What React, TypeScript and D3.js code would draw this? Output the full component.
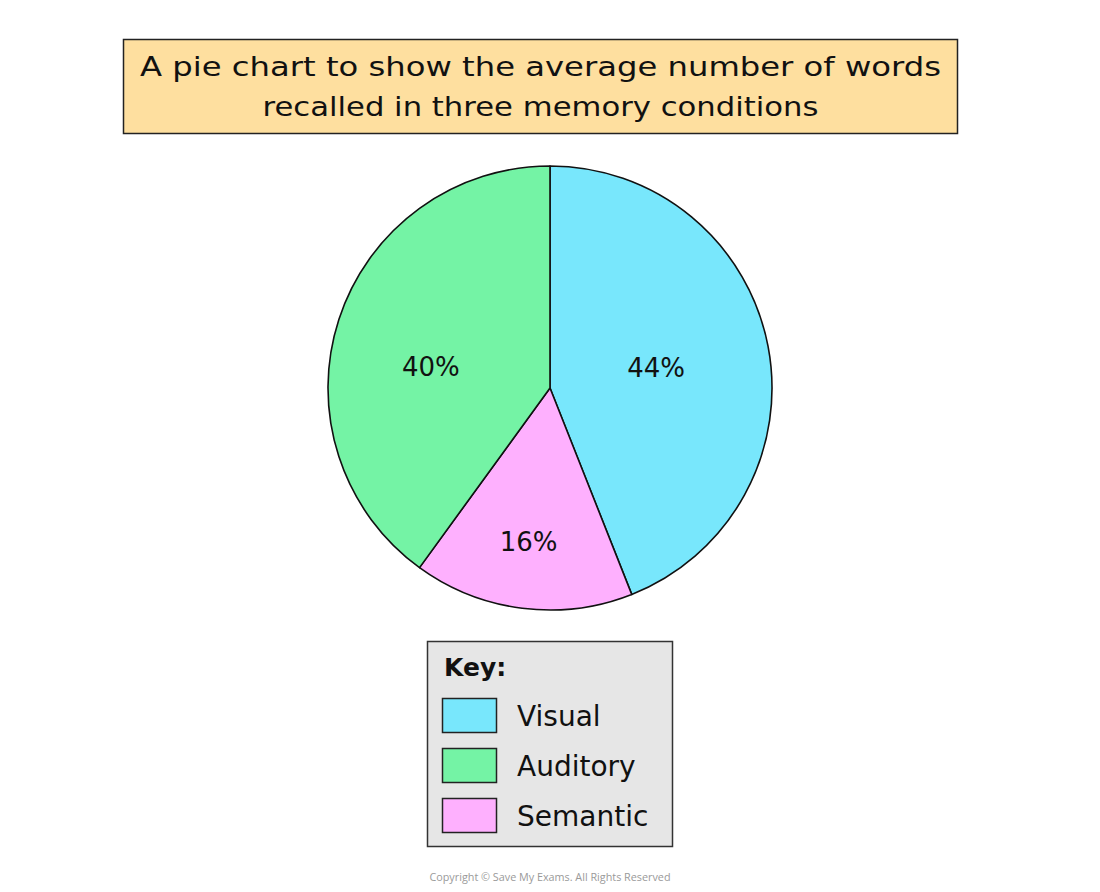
import React, { useEffect, useRef } from 'react';
import * as d3 from 'd3';

const conditions = ['Visual', 'Auditory', 'Semantic'];
const percents = [44, 40, 16];
// pie is drawn clockwise from 12 o'clock in this order
const sliceOrder = ['Visual', 'Semantic', 'Auditory'];
const colors = ['#78e7fc', '#74f3a5', '#feb0fe'];
const titleLines = [
  'A pie chart to show the average number of words',
  'recalled in three memory conditions',
];

const App: React.FC = () => {
  const svgRef = useRef<SVGSVGElement>(null);
  const width = 1100;
  const height = 892;

  useEffect(() => {
    const svg = d3.select(svgRef.current);
    svg.selectAll('*').remove();

    const font = "'DejaVu Sans', sans-serif";
    const color = d3.scaleOrdinal<string, string>().domain(conditions).range(colors);

    // title box
    svg.append('rect')
      .attr('x', 123.5).attr('y', 39.5)
      .attr('width', 834).attr('height', 94)
      .attr('fill', '#fedf9f')
      .attr('stroke', '#222').attr('stroke-width', 1.5);

    const titleWidths = [801, 556];
    titleLines.forEach((t, i) => {
      svg.append('text')
        .attr('x', 540.5)
        .attr('y', 76 + i * 40)
        .attr('text-anchor', 'middle')
        .attr('font-family', font)
        .attr('font-size', 27)
        .attr('fill', '#111')
        .attr('textLength', titleWidths[i])
        .attr('lengthAdjust', 'spacingAndGlyphs')
        .text(t);
    });

    // pie
    const cx = 550, cy = 388, r = 222;
    const data = sliceOrder.map(name => ({ name, value: percents[conditions.indexOf(name)] }));
    const pie = d3.pie<{ name: string; value: number }>()
      .value(d => d.value)
      .sort(null);
    const arcs = pie(data);
    const arc = d3.arc<d3.PieArcDatum<{ name: string; value: number }>>()
      .innerRadius(0)
      .outerRadius(r);

    const g = svg.append('g').attr('transform', `translate(${cx},${cy})`);
    g.selectAll('path')
      .data(arcs)
      .join('path')
      .attr('d', arc)
      .attr('fill', d => color(d.data.name))
      .attr('stroke', '#111')
      .attr('stroke-width', 1.6)
      .attr('stroke-linejoin', 'round');

    // label radius and nudge per slice
    const labelR: Record<string, number> = { Visual: 106, Auditory: 121, Semantic: 155 };
    const labelNudge: Record<string, [number, number]> = { Visual: [2, 0], Auditory: [-4, 16], Semantic: [-2, 0] };
    g.selectAll('text.pct')
      .data(arcs)
      .join('text')
      .attr('class', 'pct')
      .attr('transform', d => {
        const la = d3.arc<any>().innerRadius(labelR[d.data.name]).outerRadius(labelR[d.data.name]);
        const [x, y] = la.centroid(d as any);
        const [nx, ny] = labelNudge[d.data.name];
        return `translate(${x + nx},${y + ny})`;
      })
      .attr('text-anchor', 'middle')
      .attr('dominant-baseline', 'central')
      .attr('font-family', font)
      .attr('font-size', 26)
      .attr('fill', '#111')
      .text(d => `${d.data.value}%`);

    // key
    svg.append('rect')
      .attr('x', 427.5).attr('y', 641.5)
      .attr('width', 245).attr('height', 205)
      .attr('fill', '#e6e6e6')
      .attr('stroke', '#333').attr('stroke-width', 1.5);

    svg.append('text')
      .attr('x', 444).attr('y', 676)
      .attr('font-family', font)
      .attr('font-size', 25)
      .attr('font-weight', 'bold')
      .attr('fill', '#111')
      .text('Key:');

    const keyY = d3.scaleBand().domain(conditions).range([690, 840]).paddingInner(0);
    const keyRows = svg.selectAll('g.keyrow')
      .data(conditions)
      .join('g')
      .attr('class', 'keyrow')
      .attr('transform', d => `translate(0,${keyY(d)!})`);

    keyRows.append('rect')
      .attr('x', 442.5).attr('y', 8.5)
      .attr('width', 54).attr('height', 34)
      .attr('fill', d => color(d))
      .attr('stroke', '#222').attr('stroke-width', 1.5);

    keyRows.append('text')
      .attr('x', 517).attr('y', 36)
      .attr('font-family', font)
      .attr('font-size', 28)
      .attr('fill', '#111')
      .text(d => d);

    svg.append('text')
      .attr('x', 550).attr('y', 881)
      .attr('text-anchor', 'middle')
      .attr('font-family', "'Open Sans', sans-serif")
      .attr('font-size', 10.8)
      .attr('fill', '#9a9a9a')
      .text('Copyright © Save My Exams. All Rights Reserved');
  }, []);

  return (
    <div style={{ position: 'absolute', left: 0, top: 0 }}>
      <svg ref={svgRef} width={width} height={height} style={{ display: 'block', background: '#fff' }} />
    </div>
  );
};

export default App;
